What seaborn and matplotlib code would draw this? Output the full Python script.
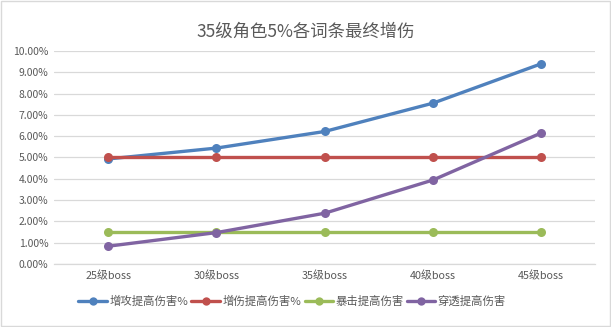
import matplotlib
matplotlib.use("Agg")
import matplotlib.pyplot as plt
from matplotlib.ticker import FuncFormatter, MultipleLocator
import seaborn as sns
import pandas as pd

categories = ["25级boss", "30级boss", "35级boss", "40级boss", "45级boss"]
series_names = ["增攻提高伤害%", "增伤提高伤害%", "暴击提高伤害", "穿透提高伤害"]
atk_gain = [4.93, 5.44, 6.22, 7.55, 9.40]
dmg_gain = [5.00, 5.00, 5.00, 5.00, 5.00]
crit_gain = [1.52, 1.52, 1.52, 1.52, 1.52]
pen_gain = [0.83, 1.47, 2.38, 3.94, 6.15]
colors = ["#4F81BD", "#C0504D", "#9BBB59", "#8064A2"]

rows = []
for name, vals in zip(series_names, [atk_gain, dmg_gain, crit_gain, pen_gain]):
    for i, (cat, v) in enumerate(zip(categories, vals)):
        rows.append({"pos": i, "category": cat, "series": name, "value": v})
df = pd.DataFrame(rows)

sns.set_theme(style="white")
plt.rcParams["font.family"] = ["Noto Sans CJK SC", "DejaVu Sans"]

fig = plt.figure(figsize=(6.11, 3.27), dpi=100)
fig.patch.set_facecolor("white")
ax = fig.add_axes([0.0884, 0.193, 0.886, 0.651])

sns.lineplot(data=df, x="pos", y="value", hue="series", hue_order=series_names,
             palette=colors, marker="o", markersize=6.5, markeredgewidth=0,
             linewidth=2.4, ax=ax, legend=True)

text_color = "#595959"
ax.set_xlim(-0.5, len(categories) - 0.5)
ax.set_ylim(0, 10)
ax.yaxis.set_major_locator(MultipleLocator(1))
ax.yaxis.set_major_formatter(FuncFormatter(lambda v, _: f"{v:.2f}%"))
ax.set_xticks(range(len(categories)))
ax.set_xticklabels(categories)
ax.set_xlabel("")
ax.set_ylabel("")
ax.grid(axis="y", color="#D9D9D9", linewidth=0.9)
ax.set_axisbelow(True)
for side in ["top", "right", "left"]:
    ax.spines[side].set_visible(False)
ax.spines["bottom"].set_color("#D9D9D9")
ax.spines["bottom"].set_linewidth(0.9)
ax.tick_params(axis="x", length=0, labelsize=7.8, colors=text_color, pad=5)
ax.tick_params(axis="y", length=0, labelsize=7.5, colors=text_color, pad=4)

fig.suptitle("35级角色5%各词条最终增伤", x=0.5, y=0.93, fontsize=12.5,
             color=text_color)

leg = ax.legend(loc="center", bbox_to_anchor=(0.44, -0.175), ncol=4, frameon=False,
                fontsize=8.2, handlelength=2.5, handletextpad=0.2, columnspacing=0.3,
                labelcolor=text_color)
for line in leg.get_lines():
    line.set_linewidth(2.4)
    line.set_markersize(6)

fig.add_artist(plt.Rectangle((0.002, 0.003), 0.996, 0.994, transform=fig.transFigure,
                             fill=False, edgecolor="#D9D9D9", linewidth=1))

fig.savefig("out.png", dpi=100)
